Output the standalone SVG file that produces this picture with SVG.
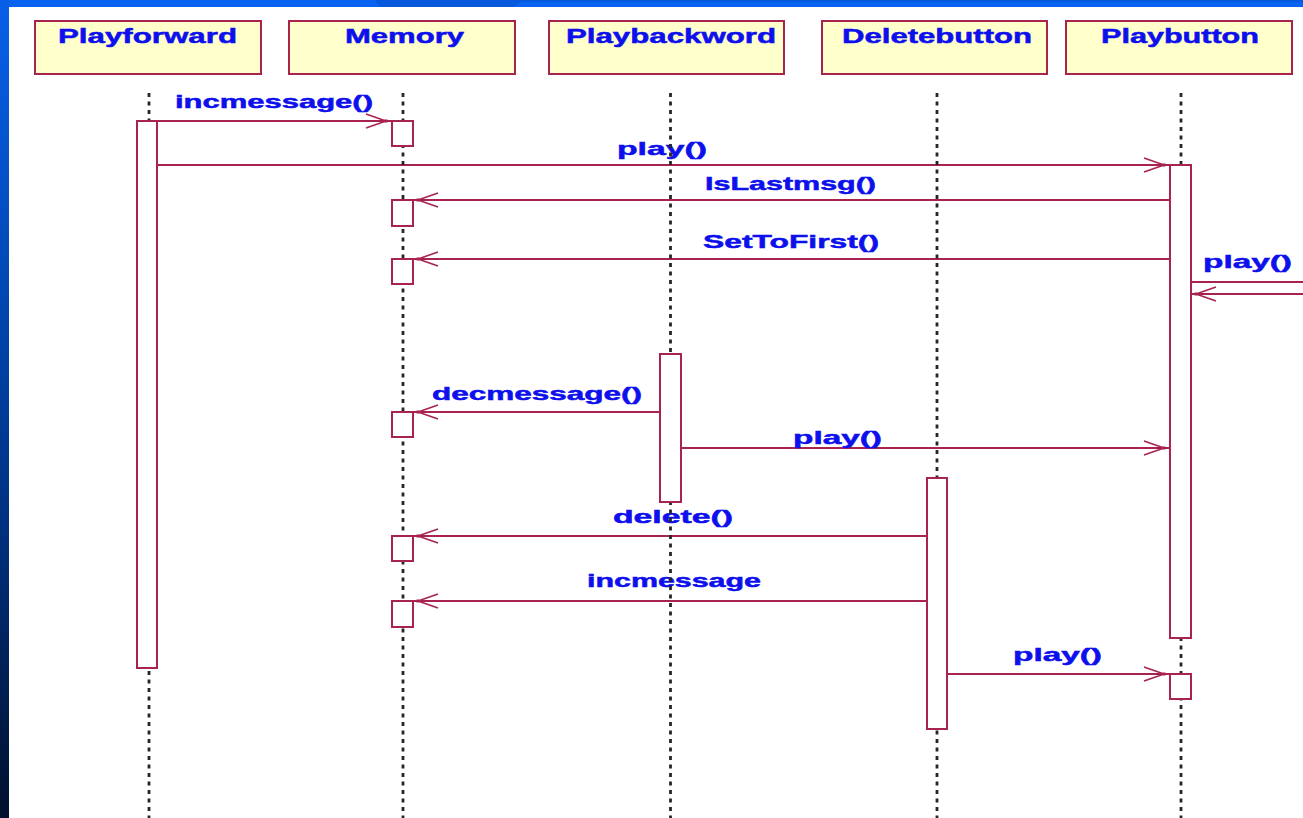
<svg xmlns="http://www.w3.org/2000/svg" width="1303" height="818" viewBox="0 0 1303 818">
<defs>
<linearGradient id="side" x1="0" y1="0" x2="0" y2="1">
<stop offset="0" stop-color="#0860e8"/>
<stop offset="0.35" stop-color="#0048b4"/>
<stop offset="0.65" stop-color="#00307e"/>
<stop offset="1" stop-color="#00102c"/>
</linearGradient>
<marker id="open" markerUnits="userSpaceOnUse" orient="auto" refX="0" refY="0" markerWidth="30" markerHeight="20" overflow="visible">
<path d="M -25 -7 L -5 0 L -25 7" fill="none" stroke="#a8244f" stroke-width="1.6"/>
<rect x="-6.5" y="-1.5" width="3" height="3" fill="#a8244f"/>
</marker>
<style>
.bg{fill:#ffffff}
.box{fill:#ffffcc;stroke:#a8244f;stroke-width:2}
.act{fill:#ffffff;stroke:#a8244f;stroke-width:2}
.life{stroke:#262626;stroke-width:2.8;stroke-dasharray:4 4.5;fill:none}
.msg{stroke:#a8244f;stroke-width:1.8;fill:none}
.arr{marker-end:url(#open)}
.name{font-family:"Liberation Sans",Arial,sans-serif;font-weight:bold;font-size:20px;fill:#0d10ec;stroke:#0d10ec;stroke-width:0.5}
.lbl{font-family:"Liberation Sans",Arial,sans-serif;font-weight:bold;font-size:19px;fill:#0d10ec;stroke:#0d10ec;stroke-width:0.5}
</style>
</defs>
<rect x="0" y="0" width="1303" height="818" class="bg"/>
<rect x="0" y="0" width="1303" height="7" fill="#0864f0"/>
<polygon points="375,0 1303,0 1303,2 520,2 513,7 380,7" fill="#0658dc"/>
<rect x="0" y="0" width="9" height="818" fill="url(#side)"/>

<g id="connectors">
<line class="msg arr" x1="157" y1="121" x2="391" y2="121"/>
<text class="lbl" x="175" y="108" textLength="198" lengthAdjust="spacingAndGlyphs">incmessage()</text>
<line class="msg arr" x1="157" y1="165" x2="1169" y2="165"/>
<text class="lbl" x="617" y="155" textLength="90" lengthAdjust="spacingAndGlyphs">play()</text>
<line class="msg arr" x1="1169" y1="200" x2="413" y2="200"/>
<text class="lbl" x="705" y="190" textLength="171" lengthAdjust="spacingAndGlyphs">IsLastmsg()</text>
<line class="msg arr" x1="1169" y1="259" x2="413" y2="259"/>
<text class="lbl" x="703" y="248" textLength="176" lengthAdjust="spacingAndGlyphs">SetToFirst()</text>
<line class="msg" x1="1191" y1="282" x2="1303" y2="282"/>
<line class="msg arr" x1="1303" y1="294" x2="1191" y2="294"/>
<text class="lbl" x="1203" y="268" textLength="89" lengthAdjust="spacingAndGlyphs">play()</text>
<line class="msg arr" x1="659" y1="412" x2="413" y2="412"/>
<text class="lbl" x="432" y="400" textLength="210" lengthAdjust="spacingAndGlyphs">decmessage()</text>
<line class="msg arr" x1="681" y1="448" x2="1169" y2="448"/>
<text class="lbl" x="793" y="444" textLength="89" lengthAdjust="spacingAndGlyphs">play()</text>
<line class="msg arr" x1="927" y1="536" x2="413" y2="536"/>
<text class="lbl" x="613" y="523" textLength="120" lengthAdjust="spacingAndGlyphs">delete()</text>
<line class="msg arr" x1="927" y1="601" x2="413" y2="601"/>
<text class="lbl" x="587" y="587" textLength="174" lengthAdjust="spacingAndGlyphs">incmessage</text>
<line class="msg arr" x1="947" y1="674" x2="1169" y2="674"/>
<text class="lbl" x="1013" y="661" textLength="89" lengthAdjust="spacingAndGlyphs">play()</text>
</g>

<g id="playforward">
<rect class="box" x="35" y="21" width="226" height="53"/>
<text class="name" x="58" y="43" textLength="179" lengthAdjust="spacingAndGlyphs">Playforward</text>
<line class="life" x1="149" y1="93" x2="149" y2="818"/>
<rect class="act" x="137" y="121" width="20" height="547"/>
</g>

<g id="memory">
<rect class="box" x="289" y="21" width="226" height="53"/>
<text class="name" x="345" y="43" textLength="119" lengthAdjust="spacingAndGlyphs">Memory</text>
<line class="life" x1="403" y1="93" x2="403" y2="818"/>
<rect class="act" x="392" y="121" width="21" height="25"/>
<rect class="act" x="392" y="200" width="21" height="26"/>
<rect class="act" x="392" y="259" width="21" height="25"/>
<rect class="act" x="392" y="412" width="21" height="25"/>
<rect class="act" x="392" y="536" width="21" height="25"/>
<rect class="act" x="392" y="601" width="21" height="26"/>
</g>

<g id="playbackword">
<rect class="box" x="549" y="21" width="235" height="53"/>
<text class="name" x="566" y="43" textLength="210" lengthAdjust="spacingAndGlyphs">Playbackword</text>
<line class="life" x1="670.5" y1="93" x2="670.5" y2="818"/>
<rect class="act" x="660" y="354" width="21" height="148"/>
</g>

<g id="deletebutton">
<rect class="box" x="822" y="21" width="225" height="53"/>
<text class="name" x="842" y="43" textLength="190" lengthAdjust="spacingAndGlyphs">Deletebutton</text>
<line class="life" x1="937" y1="93" x2="937" y2="818"/>
<rect class="act" x="927" y="478" width="20" height="251"/>
</g>

<g id="playbutton">
<rect class="box" x="1066" y="21" width="226" height="53"/>
<text class="name" x="1101" y="43" textLength="158" lengthAdjust="spacingAndGlyphs">Playbutton</text>
<line class="life" x1="1181" y1="93" x2="1181" y2="818"/>
<rect class="act" x="1170" y="165" width="21" height="473"/>
<rect class="act" x="1170" y="674" width="21" height="25"/>
</g>
</svg>
